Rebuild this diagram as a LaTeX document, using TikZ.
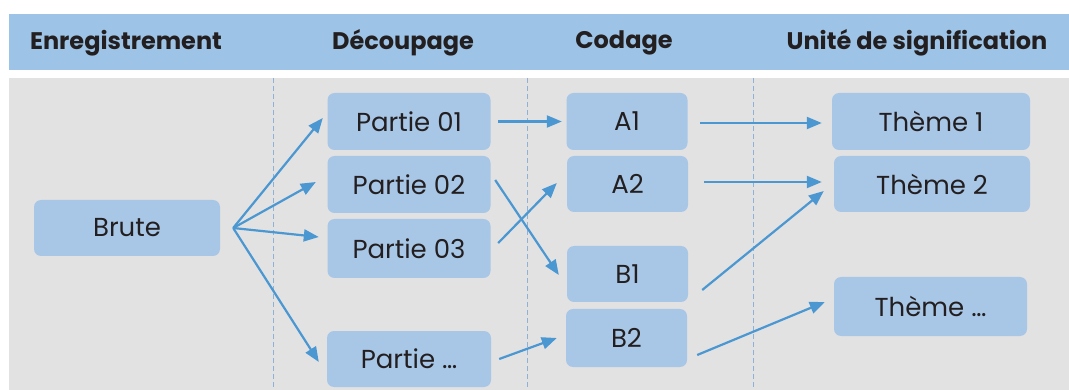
\documentclass[tikz,border=0pt]{standalone}
\usepackage{fontspec}
\setmainfont{Poppins}
\usetikzlibrary{arrows.meta,positioning}
\definecolor{bandblue}{HTML}{9DC3E6}
\definecolor{boxblue}{HTML}{A8C7E7}
\definecolor{panelgrey}{HTML}{E2E2E2}
\definecolor{arrowblue}{HTML}{4A97D2}
\definecolor{sepblue}{HTML}{8DB2D6}
\definecolor{inkgrey}{HTML}{231F20}

\begin{document}
\begin{tikzpicture}[x=1pt,y=-1pt,
    head/.style={font=\bfseries\fontsize{24}{28}\selectfont,text=inkgrey},
    unit/.style={fill=boxblue,rounded corners=7pt,minimum height=56pt,
      font=\fontsize{26}{30}\selectfont,text=inkgrey,inner sep=0pt},
    flow/.style={arrowblue,line width=2.2pt,-{Triangle[length=15pt,width=12pt]}}]
    \useasboundingbox (0,0) rectangle (1069,390);
    % Header band and panel
    \fill[bandblue] (9,14) rectangle (1069,70);
    \fill[panelgrey] (9,78) rectangle (1069,390);
    % Dashed column separators
    \foreach \x in {273,527,753} {
      \draw[sepblue,dash pattern=on 5pt off 3pt,line width=0.8pt] (\x,78)--(\x,390);
    }
    % Column titles
    \node[head] (hrec) at (126,43) {Enregistrement};
    \node[head] (hdec) at (403,43) {Découpage};
    \node[head] (hcod) at (624,43) {Codage};
    \node[head] (huni) at (917,43) {Unité de signification};
    % Boxes
    \node[unit,minimum width=186pt] (brute) at (127,228) {Brute};
    \node[unit,minimum width=163pt,minimum height=57pt] (p1) at (409,121.5) {Partie 01};
    \node[unit,minimum width=163pt,minimum height=57pt] (p2) at (409,184.5) {Partie 02};
    \node[unit,minimum width=163pt,minimum height=59pt] (p3) at (409,248.5) {Partie 03};
    \node[unit,minimum width=164pt] (pn) at (409,359) {Partie …};
    \node[unit,minimum width=121pt,minimum height=57pt] (a1) at (627,121.5) {A1};
    \node[unit,minimum width=121pt] (a2) at (627.5,184) {A2};
    \node[unit,minimum width=121pt] (b1) at (627.5,274) {B1};
    \node[unit,minimum width=121pt,minimum height=58pt] (b2) at (626.5,338) {B2};
    \node[unit,minimum width=198pt,minimum height=57pt] (t1) at (931,121.5) {Thème 1};
    \node[unit,minimum width=196pt] (t2) at (932,184) {Thème 2};
    \node[unit,minimum width=193pt,minimum height=59pt] (tn) at (930.5,306.5) {Thème …};
    % Fan out of the raw recording
    \coordinate (fan) at ([xshift=13pt]brute.east);
    \draw[flow] (fan) -- ([xshift=-4.5pt,yshift=3.5pt]p1.west);
    \draw[flow] (fan) -- ([xshift=-11.5pt,yshift=2.5pt]p2.west);
    \draw[flow] (fan) -- ([xshift=-8.5pt,yshift=11.5pt]p3.west);
    \draw[flow] (fan) -- ([xshift=-8pt,yshift=-3pt]pn.west);
    % Parts to codes
    \draw[flow] ([xshift=7.5pt]p1.east) -- ([xshift=-4.5pt]a1.west);
    \draw[flow] ([xshift=4.5pt,yshift=4.5pt]p2.east) -- ([xshift=-8pt,yshift=-1pt]b1.west);
    \draw[flow] ([xshift=7.5pt,yshift=5.5pt]p3.east) -- ([xshift=-10pt,yshift=1pt]a2.west);
    \draw[flow] ([xshift=8pt]pn.east) -- ([xshift=-9pt]b2.west);
    % Codes to units of meaning
    \draw[flow] ([xshift=12.5pt,yshift=-1.5pt]a1.east) -- ([xshift=-10pt,yshift=-1.5pt]t1.west);
    \draw[flow] ([xshift=16pt,yshift=2pt]a2.east) -- ([xshift=-12pt,yshift=2pt]t2.west);
    \draw[flow] ([xshift=14pt,yshift=-16pt]b1.east) -- ([xshift=-10pt,yshift=-7pt]t2.west);
    \draw[flow] ([xshift=10pt,yshift=-17pt]b2.east) -- ([xshift=-9pt,yshift=4.5pt]tn.west);
  \end{tikzpicture}
\end{document}
